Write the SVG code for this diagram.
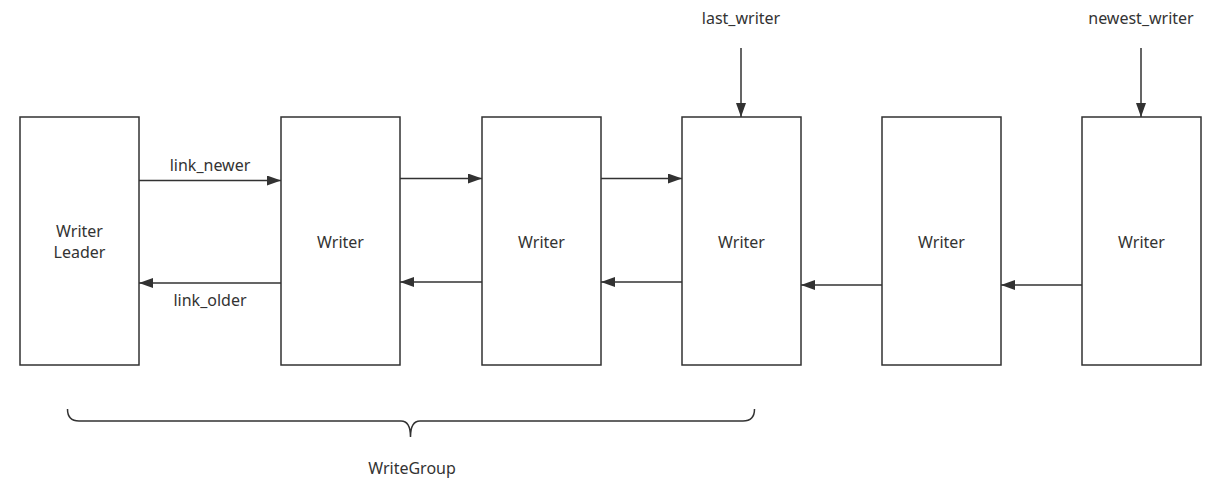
<svg xmlns="http://www.w3.org/2000/svg" width="1230" height="494" viewBox="0 0 1230 494">
<style>
.box{fill:#ffffff;stroke:#323232;stroke-width:1.5}
.ln{fill:none;stroke:#323232;stroke-width:1.5}
text{font-family:"Noto Sans","Open Sans","DejaVu Sans",sans-serif;font-size:16px;fill:#333333}
.c{text-anchor:middle}
</style>
<defs>
<marker id="ah" viewBox="0 0 14 10" refX="14" refY="5" markerWidth="14" markerHeight="10" markerUnits="userSpaceOnUse" orient="auto">
<path d="M0,0 L14,5 L0,10 Z" fill="#323232"/>
</marker>
</defs>
<rect width="1230" height="494" fill="#ffffff"/>
<g id="leader"><rect class="box" x="20" y="117" width="119" height="248"/><text class="c" x="79.5" y="237">Writer</text><text class="c" x="79.5" y="258">Leader</text></g>
<g id="w1"><rect class="box" x="281" y="117" width="119" height="248"/><text class="c" x="340.5" y="248">Writer</text></g>
<g id="w2"><rect class="box" x="482" y="117" width="119" height="248"/><text class="c" x="541.5" y="248">Writer</text></g>
<g id="w3"><rect class="box" x="682" y="117" width="119" height="248"/><text class="c" x="741.5" y="248">Writer</text></g>
<g id="w4"><rect class="box" x="882" y="117" width="119" height="248"/><text class="c" x="941.5" y="248">Writer</text></g>
<g id="w5"><rect class="box" x="1082" y="117" width="119" height="248"/><text class="c" x="1141.5" y="248">Writer</text></g>
<g id="connectors">
<line class="ln" x1="139" y1="180.5" x2="281" y2="180.5" marker-end="url(#ah)"/>
<line class="ln" x1="281" y1="283" x2="139" y2="283" marker-end="url(#ah)"/>
<line class="ln" x1="400" y1="178.5" x2="482" y2="178.5" marker-end="url(#ah)"/>
<line class="ln" x1="482" y1="282" x2="400" y2="282" marker-end="url(#ah)"/>
<line class="ln" x1="601" y1="178.5" x2="682" y2="178.5" marker-end="url(#ah)"/>
<line class="ln" x1="682" y1="282" x2="601" y2="282" marker-end="url(#ah)"/>
<line class="ln" x1="882" y1="285" x2="801" y2="285" marker-end="url(#ah)"/>
<line class="ln" x1="1082" y1="285" x2="1001" y2="285" marker-end="url(#ah)"/>
<line class="ln" x1="741" y1="48" x2="741" y2="117" marker-end="url(#ah)"/>
<line class="ln" x1="1141" y1="48" x2="1141" y2="117" marker-end="url(#ah)"/>
<text class="c" x="210" y="171">link_newer</text>
<text class="c" x="210" y="306">link_older</text>
<text class="c" x="741" y="24">last_writer</text>
<text class="c" x="1141" y="24">newest_writer</text>
</g>
<g id="writegroup">
<path class="ln" d="M67.5,409 Q67.5,421 79,421 L401,421 Q410.5,421 410.5,437 Q410.5,421 420,421 L743,421 Q754.5,421 754.5,409"/>
<text class="c" x="412" y="474">WriteGroup</text>
</g>
</svg>
